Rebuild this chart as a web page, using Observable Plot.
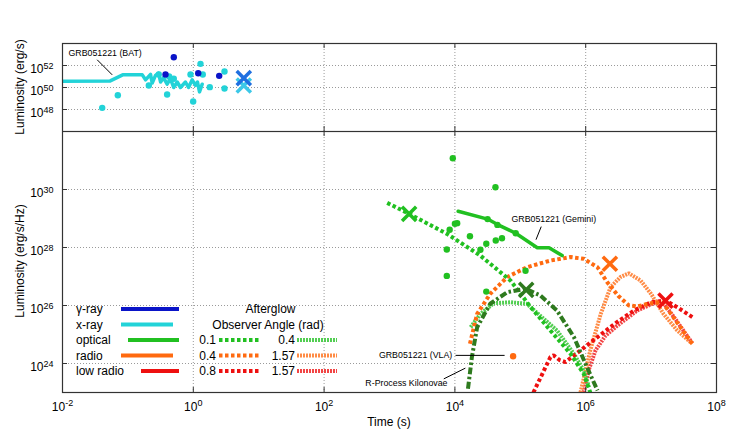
<!DOCTYPE html>
<html><head><meta charset="utf-8">
<script src="https://cdn.jsdelivr.net/npm/d3@7"></script>
<script src="https://cdn.jsdelivr.net/npm/@observablehq/plot@0.6"></script>
<style>
body{margin:0;background:#fff;}
#wrap{position:relative;width:747px;height:436px;font-family:"Liberation Sans",Arial,sans-serif;background:#fff;}
#wrap svg{display:block}
</style></head><body><div id="wrap"></div>
<script>
// ---------- tick values ----------
const decadesX = [1e-2, 1, 1e2, 1e4, 1e6, 1e8];
const decadesTopY = [1e48, 1e50, 1e52];
const decadesBotY = [1e24, 1e26, 1e28, 1e30];

// ---------- top panel (log10 t, log10 L) ----------
const batLogT = [-2, -1.27, -1.08, -0.78, -0.73, -0.654, -0.628, -0.578, -0.532, -0.50, -0.456, -0.40, -0.35, -0.30, -0.246, -0.196, -0.12, -0.073, -0.017, 0.034, 0.064, 0.095, 0.136];
const batLogL = [50.57, 50.6, 51.15, 51.15, 50.7, 51.2, 50.4, 51.1, 51.3, 50.5, 50.9, 50.3, 50.8, 50.0, 50.5, 50.0, 50.5, 50.0, 50.7, 50.2, 50.5, 49.6, 50.3];
const xrayDotT = [-1.393, -1.154, -0.68, -0.528, -0.40, -0.37, -0.298, -0.043, -0.002, 0.11, 0.145, 0.252, 0.477, 0.477];
const xrayDotL = [48.15, 49.30, 50.18, 51.18, 49.36, 51.0, 50.79, 51.18, 48.73, 52.15, 51.18, 50.03, 51.45, 49.91];
const gammaDotT = [-0.425, -0.298, 0.075, 0.396];
const gammaDotL = [51.18, 52.75, 51.3, 51.06];
const gammaXT = [0.772], gammaXL = [50.85];
const xrayXT = [0.772], xrayXL = [50.18];

// ---------- bottom panel (log10 t, log10 L) ----------
const optDotT = [3.968, 4.62, 4.035, 4.00, 3.92, 4.23, 4.50, 4.65, 4.93, 4.625, 4.72, 4.48, 4.39, 3.876, 3.876, 4.48, 5.08];
const optDotL = [31.08, 30.08, 28.84, 28.82, 28.61, 28.39, 28.98, 28.78, 28.49, 28.24, 28.32, 28.13, 27.92, 27.93, 27.02, 26.48, 27.2];
const geminiT = [4.05, 4.50, 4.645, 4.93, 5.26, 5.44, 5.64];
const geminiL = [29.25, 28.98, 28.80, 28.49, 27.99, 27.99, 27.72];
const vlaT = [4.89], vlaL = [24.25];

const agOpt01T = [2.965, 3.30, 3.88, 4.39, 4.85, 5.16, 5.46, 5.77, 5.97, 6.07];
const agOpt01L = [29.54, 29.16, 28.47, 27.72, 26.86, 25.94, 25.14, 24.33, 23.64, 23.0];
const agOpt04T = [4.24, 4.39, 4.595, 4.85, 5.10, 5.36, 5.56, 5.82, 5.97, 6.05];
const agOpt04L = [25.25, 25.71, 26.08, 26.11, 26.06, 25.54, 25.14, 24.33, 23.76, 23.18];
const agRad04T = [4.23, 4.34, 4.54, 4.80, 5.10, 5.46, 5.77, 5.97, 6.18, 6.33, 6.50, 6.66, 6.79, 7.0, 7.17, 7.32, 7.45, 7.63];
const agRad04L = [24.68, 25.71, 26.4, 26.98, 27.32, 27.55, 27.67, 27.61, 27.32, 26.80, 26.33, 26.0, 25.97, 26.08, 26.11, 25.66, 25.25, 24.68];
const agRad157T = [5.92, 6.07, 6.23, 6.38, 6.53, 6.66, 6.84, 7.0, 7.19, 7.40, 7.63];
const agRad157L = [23.0, 24.45, 25.71, 26.63, 26.98, 27.11, 26.86, 26.4, 25.71, 25.14, 24.68];
const agLow08T = [5.2, 5.46, 5.51, 5.60, 5.69, 5.92, 6.18, 6.48, 6.74, 7.0, 7.22, 7.40, 7.63];
const agLow08L = [23.0, 24.22, 24.28, 24.12, 24.05, 24.45, 24.91, 25.43, 25.83, 26.11, 26.17, 25.94, 25.6];
const agLow157T = [5.97, 6.05, 6.15, 6.3, 6.48, 6.79, 7.04, 7.2, 7.35, 7.55, 7.63];
const agLow157L = [23.0, 23.8, 24.45, 24.95, 25.3, 25.83, 26.08, 26.05, 25.6, 24.95, 24.7];
const kiloT = [4.20, 4.26, 4.34, 4.54, 4.80, 5.08, 5.31, 5.56, 5.82, 6.02, 6.18];
const kiloL = [23.13, 24.22, 25.25, 26.06, 26.46, 26.58, 26.34, 25.83, 24.91, 23.87, 23.07];

const xMarkerNames = ["optical", "kilonova", "radio", "lowradio"];
const xMarkerT = [3.30, 5.09, 6.37, 7.22];
const xMarkerL = [29.16, 26.54, 27.44, 26.17];

// annotations
const topNoteText = ["GRB051221 (BAT)"];
const topNoteT = [-1.908], topNoteL = [53.12];
const topLeadT1 = [-1.47], topLeadL1 = [52.52], topLeadT2 = [-1.24], topLeadL2 = [51.15];
const botNoteText = ["GRB051221 (Gemini)", "GRB051221 (VLA)", "R-Process Kilonovae"];
const botNoteT = [4.865, 3.96, 3.887];
const botNoteL = [28.99, 24.28, 23.31];
const botNoteAnchor = ["start", "end", "end"];
const botLeadT1 = [5.32, 4.01, 3.83], botLeadL1 = [28.72, 24.28, 23.47];
const botLeadT2 = [5.24, 4.76, 4.16], botLeadL2 = [28.27, 24.28, 23.84];

// legend
const legendLabels = ["γ-ray", "x-ray", "optical", "radio", "low radio"];
const agAngleA = ["0.1", "0.4", "0.8"];
const agAngleB = ["0.4", "1.57", "1.57"];

(function () {
// ---------- colours ----------
const C = {
  gamma: "#0a14c8", xray: "#22d3d8", optical: "#21c021", radio: "#ff6a10",
  low: "#ee1010", kilo: "#2e7a1e", gammaX: "#1f6fe0", xrayX: "#3cc8e8"
};
const light = c => d3.interpolateRgb(c, "#ffffff")(0.22);
const markerColors = {optical: C.optical, kilonova: C.kilo, radio: C.radio, lowradio: C.low};

// ---------- helpers ----------
const pts = (T, L) => T.map((t, i) => ({x: 10 ** t, y: 10 ** L[i]}));
const sup = d => `10^${Math.round(Math.log10(d))}`;
const FONT = '"Liberation Sans", Arial, sans-serif';
const W = 747, ML = 62, MR = 31;
const innerW = W - ML - MR;
const TK = 5;
const DOT = "3.5,2.5", HATCH = "2,1", DASHDOT = "7,2.5,2.5,2.5";

function superscripts(svg) {
  d3.select(svg).selectAll("text").each(function () {
    const m = /^10\^(-?\d+)$/.exec(this.textContent);
    if (!m) return;
    const t = d3.select(this);
    t.text("10");
    t.append("tspan").attr("dy", "-0.48em").attr("font-size", "9px").text(m[1]);
  });
}

function frameTicks(yTicks, frameH) {
  return [
    Plot.tickX(decadesX, {x: d => d, insetBottom: frameH - TK, stroke: "#333"}),
    Plot.tickX(decadesX, {x: d => d, insetTop: frameH - TK, stroke: "#333"}),
    Plot.tickY(yTicks, {y: d => d, insetRight: innerW - TK, stroke: "#333"}),
    Plot.tickY(yTicks, {y: d => d, insetLeft: innerW - TK, stroke: "#333"})
  ];
}
const grid = (yTicks) => [
  Plot.gridX(decadesX, {stroke: "#9a9a9a", strokeOpacity: 1, strokeDasharray: "1,2"}),
  Plot.gridY(yTicks, {stroke: "#9a9a9a", strokeOpacity: 1, strokeDasharray: "1,2"})
];
const styled = (T, L, stroke, dash) =>
  Plot.line(pts(T, L), {x: "x", y: "y", stroke, strokeWidth: 4,
    strokeDasharray: dash, strokeLinecap: "butt", strokeLinejoin: "miter", clip: true});

// ---------- top panel ----------
const topH = 131, topMT = 43;
const topPlot = Plot.plot({
  width: W, height: topH, marginTop: topMT, marginBottom: 0, marginLeft: ML, marginRight: MR,
  style: {fontFamily: FONT, fontSize: "12px", background: "white", color: "#000"},
  x: {type: "log", domain: [1e-2, 1e8], axis: null},
  y: {type: "log", domain: [1e46, 1e54], axis: null},
  marks: [
    ...grid(decadesTopY),
    Plot.line(pts(batLogT, batLogL), {x: "x", y: "y", stroke: C.xray, strokeWidth: 3.5, clip: true}),
    Plot.dot(pts(xrayDotT, xrayDotL), {x: "x", y: "y", r: 3.2, fill: C.xray}),
    Plot.dot(pts(gammaDotT, gammaDotL), {x: "x", y: "y", r: 3.2, fill: C.gamma}),
    Plot.dot(pts(xrayXT, xrayXL), {x: "x", y: "y", symbol: "times", r: 6.5, stroke: C.xrayX, strokeWidth: 3.5}),
    Plot.dot(pts(gammaXT, gammaXL), {x: "x", y: "y", symbol: "times", r: 6.5, stroke: C.gammaX, strokeWidth: 3.5}),
    Plot.link(topLeadT1.map((t, i) => ({x1: 10 ** t, y1: 10 ** topLeadL1[i], x2: 10 ** topLeadT2[i], y2: 10 ** topLeadL2[i]})),
      {x1: "x1", y1: "y1", x2: "x2", y2: "y2", stroke: "#000", strokeWidth: 1}),
    Plot.text(topNoteText.map((s, i) => ({s, x: 10 ** topNoteT[i], y: 10 ** topNoteL[i]})),
      {x: "x", y: "y", text: "s", textAnchor: "start", fontSize: 8.8, fill: "#000"}),
    Plot.frame({stroke: "#333", strokeWidth: 1.2}),
    ...frameTicks(decadesTopY, topH - topMT),
    Plot.axisY(decadesTopY, {tickSize: 0, tickPadding: 9, tickFormat: sup, fontSize: 12, label: null, dy: 4})
  ]
});

// ---------- bottom panel ----------
const botH = 305, botMB = 44;
const optX = pts(xMarkerT, xMarkerL).map((d, i) => ({...d, name: xMarkerNames[i]}));
const notes = botNoteText.map((s, i) => ({s, a: botNoteAnchor[i], x: 10 ** botNoteT[i], y: 10 ** botNoteL[i]}));
const botPlot = Plot.plot({
  width: W, height: botH, marginTop: 0, marginBottom: botMB, marginLeft: ML, marginRight: MR,
  style: {fontFamily: FONT, fontSize: "12px", background: "white", color: "#000"},
  x: {type: "log", domain: [1e-2, 1e8], axis: null},
  y: {type: "log", domain: [1e23, 1e32], axis: null},
  marks: [
    ...grid(decadesBotY),
    styled(agLow157T, agLow157L, light(C.low), HATCH),
    styled(agRad157T, agRad157L, light(C.radio), HATCH),
    styled(agOpt04T, agOpt04L, light(C.optical), HATCH),
    styled(agLow08T, agLow08L, C.low, DOT),
    styled(agRad04T, agRad04L, C.radio, DOT),
    styled(agOpt01T, agOpt01L, C.optical, DOT),
    styled(kiloT, kiloL, C.kilo, DASHDOT),
    Plot.line(pts(geminiT, geminiL), {x: "x", y: "y", stroke: C.optical, strokeWidth: 3.5, clip: true}),
    Plot.dot(pts(optDotT, optDotL), {x: "x", y: "y", r: 3.2, fill: C.optical}),
    Plot.dot(pts(vlaT, vlaL), {x: "x", y: "y", r: 3.2, fill: C.radio}),
    Plot.dot(optX, {x: "x", y: "y", symbol: "times", r: 6.5, stroke: d => markerColors[d.name], strokeWidth: 3.5}),
    Plot.link(botLeadT1.map((t, i) => ({x1: 10 ** t, y1: 10 ** botLeadL1[i], x2: 10 ** botLeadT2[i], y2: 10 ** botLeadL2[i]})),
      {x1: "x1", y1: "y1", x2: "x2", y2: "y2", stroke: "#000", strokeWidth: 1}),
    Plot.text(notes.filter(d => d.a === "start"), {x: "x", y: "y", text: "s", textAnchor: "start", fontSize: 8.8, fill: "#000"}),
    Plot.text(notes.filter(d => d.a === "end"), {x: "x", y: "y", text: "s", textAnchor: "end", fontSize: 8.8, fill: "#000"}),
    Plot.frame({stroke: "#333", strokeWidth: 1.2}),
    ...frameTicks(decadesBotY, botH - botMB),
    Plot.axisY(decadesBotY, {tickSize: 0, tickPadding: 9, tickFormat: sup, fontSize: 12, label: null, dy: 4}),
    Plot.axisX(decadesX, {tickSize: 0, tickPadding: 9.5, tickFormat: sup, fontSize: 12, label: null})
  ]
});

superscripts(topPlot);
superscripts(botPlot);
const wrap = document.getElementById("wrap");
wrap.appendChild(topPlot);
wrap.appendChild(botPlot);

// ---------- overlay: axis titles + legend ----------
const legendColors = [C.gamma, C.xray, C.optical, C.radio, C.low];
const legendX1 = [121, 121, 128, 121, 141];
const legendX2 = [179, 173, 179, 173, 179];
const rowY = [309, 324.5, 340, 355.5, 371];
const agColors = [C.optical, C.radio, C.low];

const ov = d3.create("svg").attr("width", W).attr("height", 436)
  .style("position", "absolute").style("left", "0px").style("top", "0px")
  .attr("font-family", FONT).attr("font-size", 12).attr("fill", "#000");

ov.append("text").attr("transform", "translate(20,87) rotate(-90)").attr("text-anchor", "middle").attr("dy", "0.35em").text("Luminosity (erg/s)");
ov.append("text").attr("transform", "translate(20,261) rotate(-90)").attr("text-anchor", "middle").attr("dy", "0.35em").text("Luminosity (erg/s/Hz)");
ov.append("text").attr("x", 389).attr("y", 422).attr("text-anchor", "middle").attr("dy", "0.35em").text("Time (s)");

legendLabels.forEach((s, i) => {
  ov.append("text").attr("x", 76).attr("y", rowY[i]).attr("dy", "0.35em").text(s);
  ov.append("line").attr("x1", legendX1[i]).attr("x2", legendX2[i]).attr("y1", rowY[i]).attr("y2", rowY[i])
    .attr("stroke", legendColors[i]).attr("stroke-width", 4);
});
ov.append("text").attr("x", 270.5).attr("y", rowY[0]).attr("dy", "0.35em").attr("text-anchor", "middle").text("Afterglow");
ov.append("text").attr("x", 268).attr("y", rowY[1]).attr("dy", "0.35em").attr("text-anchor", "middle").text("Observer Angle (rad)");
agAngleA.forEach((s, i) => {
  const y = rowY[i + 2];
  ov.append("text").attr("x", 216).attr("y", y).attr("dy", "0.35em").attr("text-anchor", "end").text(s);
  ov.append("line").attr("x1", 219).attr("x2", 259).attr("y1", y).attr("y2", y)
    .attr("stroke", agColors[i]).attr("stroke-width", 4).attr("stroke-dasharray", DOT);
  ov.append("text").attr("x", 295).attr("y", y).attr("dy", "0.35em").attr("text-anchor", "end").text(agAngleB[i]);
  ov.append("line").attr("x1", 297).attr("x2", 337).attr("y1", y).attr("y2", y)
    .attr("stroke", light(agColors[i])).attr("stroke-width", 4).attr("stroke-dasharray", HATCH);
});
wrap.appendChild(ov.node());
})();
</script>
</body></html>
